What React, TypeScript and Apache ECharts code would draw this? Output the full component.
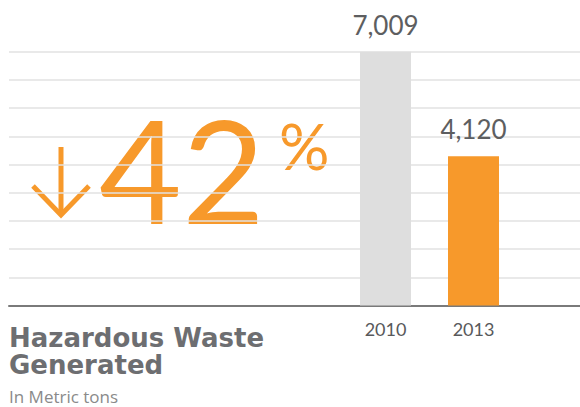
import React, { useEffect, useRef } from "react";
import * as echarts from "echarts";

const categories = ["2010", "2013"];
const values = [7009, 4120];
const barColors = ["#dedede", "#f7992b"];
const axisMax = 7009;
const splitCount = 9;
const changeText = "42";
const percentSign = "%";
const titleLines = ["Hazardous Waste", "Generated"];
const subtitle = "In Metric tons";

const ORANGE = "#f7992b";

export default function App() {
  const ref = useRef<HTMLDivElement>(null);
  useEffect(() => {
    if (!ref.current) return;
    const chart = echarts.init(ref.current, undefined, { renderer: "svg" });
    const top = 51.7;
    const bottom = 407 - 305.5;
    chart.setOption({
      animation: false,
      grid: [
        { left: 9, right: 0, top, bottom },
        { left: 341.5, right: 62.5, top, bottom },
      ],
      xAxis: [
        {
          gridIndex: 0,
          type: "value",
          min: 0,
          max: 1,
          axisLine: { show: true, lineStyle: { color: "#7a7a7a", width: 2 } },
          axisTick: { show: false },
          axisLabel: { show: false },
          splitLine: { show: false },
        },
        {
          gridIndex: 1,
          type: "category",
          data: categories,
          axisLine: { show: false },
          axisTick: { show: false },
          axisLabel: {
            color: "#58595b",
            fontFamily: "Lato",
            fontSize: 18,
            margin: 14,
          },
        },
      ],
      yAxis: [
        {
          gridIndex: 0,
          type: "value",
          min: 0,
          max: axisMax,
          interval: axisMax / splitCount,
          axisLine: { show: false },
          axisTick: { show: false },
          axisLabel: { show: false },
          splitLine: { show: true, lineStyle: { color: "#e2e2e2", width: 1.5 } },
        },
        {
          gridIndex: 1,
          type: "value",
          min: 0,
          max: axisMax,
          show: false,
          splitLine: { show: false },
        },
      ],
      series: [
        {
          type: "bar",
          xAxisIndex: 1,
          yAxisIndex: 1,
          barWidth: 51,
          data: values.map((v, i) => ({ value: v, itemStyle: { color: barColors[i] } })),
          label: {
            show: true,
            position: "top",
            distance: 14,
            color: "#5d5e60",
            fontFamily: "Lato",
            fontSize: 26,
            formatter: (p: any) => Number(p.value).toLocaleString("en-US"),
          },
        },
      ],
      graphic: [
        {
          type: "line",
          shape: { x1: 61, y1: 147, x2: 61, y2: 214 },
          style: { stroke: ORANGE, lineWidth: 5 },
        },
        {
          type: "polyline",
          shape: { points: [[33, 186], [61, 215], [89, 186]] },
          style: { stroke: ORANGE, lineWidth: 5, fill: null },
        },
        {
          type: "text",
          x: 99,
          y: 168,
          style: {
            text: changeText,
            fill: ORANGE,
            font: "400 143px Lato",
            textAlign: "left",
            textVerticalAlign: "middle",
          },
        },
        {
          type: "text",
          x: 279,
          y: 145,
          style: {
            text: percentSign,
            fill: ORANGE,
            font: "400 63px Lato",
            textAlign: "left",
            textVerticalAlign: "middle",
          },
        },
        {
          type: "text",
          x: 9,
          y: 324,
          style: {
            text: titleLines.join("\n"),
            fill: "#6d6e71",
            font: "bold 26px 'DejaVu Sans'",
            lineHeight: 27,
            textAlign: "left",
            textVerticalAlign: "top",
          },
        },
        {
          type: "text",
          x: 9,
          y: 396,
          style: {
            text: subtitle,
            fill: "#8a8a8a",
            font: "17px 'Open Sans'",
            textAlign: "left",
            textVerticalAlign: "middle",
          },
        },
      ],
    });
    return () => chart.dispose();
  }, []);
  return <div ref={ref} style={{ width: 580, height: 407, position: "absolute", left: 0, top: 0 }} />;
}
